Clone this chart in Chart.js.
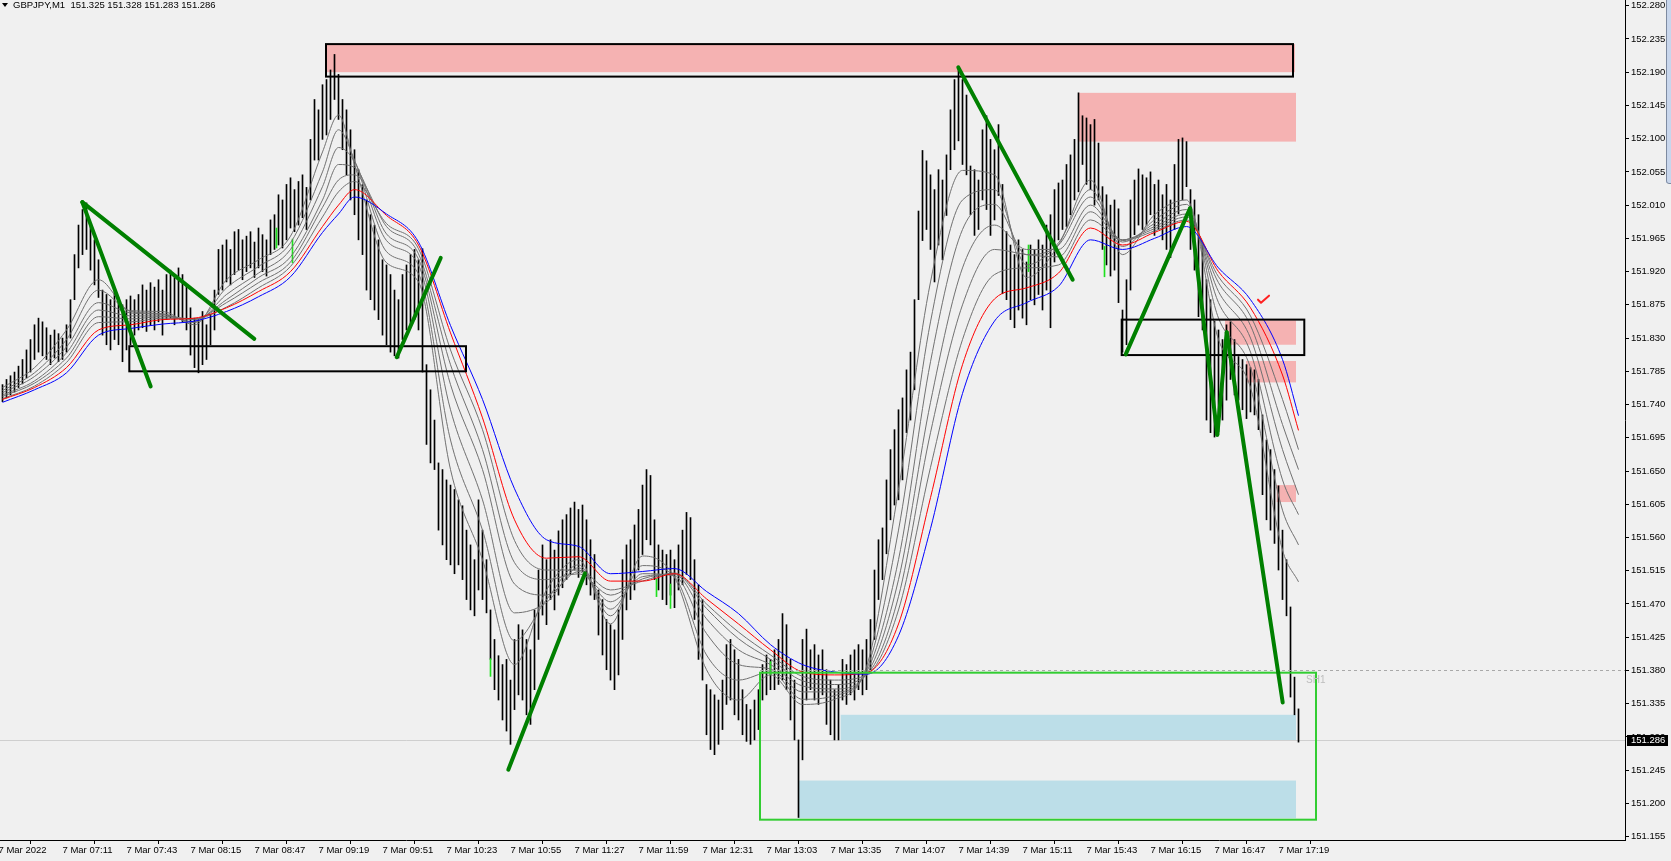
<!DOCTYPE html>
<html><head><meta charset="utf-8">
<script src="https://cdn.jsdelivr.net/npm/chart.js@4.4.1/dist/chart.umd.min.js"></script>
<style>html,body{margin:0;padding:0;background:#f0f0f0;overflow:hidden}canvas{display:block}</style>
</head><body>
<canvas id="c" width="1671" height="861"></canvas>
<script>
// ---------- data ----------
const symbol = "GBPJPY,M1";
const lastOHLC = [151.325, 151.328, 151.283, 151.286];
const barStartMinute = 400;   // 06:40, minutes since midnight
const barStepMinutes = 2;     // one bar per 2 minutes

const barHigh = [
151.767,151.774,151.779,151.784,151.792,151.801,151.814,151.828,151.848,151.857,
151.852,151.844,151.834,151.841,151.836,151.830,151.848,151.882,151.943,151.983,
152.004,152.013,151.983,151.963,151.936,151.895,151.889,151.882,151.893,151.885,
151.875,151.882,151.887,151.882,151.889,151.902,151.895,151.905,151.899,151.909,
151.895,151.916,151.922,151.912,151.925,151.916,151.902,151.871,151.857,151.855,
151.866,151.848,151.862,151.895,151.950,151.956,151.963,151.950,151.974,151.977,
151.963,151.968,151.974,151.960,151.979,151.970,151.963,151.990,151.997,152.024,
152.017,152.038,152.047,152.031,152.042,152.051,152.034,152.099,152.153,152.139,
152.173,152.180,152.193,152.214,152.187,152.153,152.139,152.112,152.085,152.058,
152.038,152.017,151.997,151.983,151.963,151.936,151.929,151.916,151.895,151.882,
151.916,151.929,151.943,151.950,151.936,151.951,151.794,151.760,151.719,151.661,
151.652,151.638,151.631,151.625,151.611,151.603,151.570,151.550,151.530,151.611,
151.570,151.530,151.462,151.422,151.400,151.388,151.395,151.367,151.422,151.442,
151.435,151.422,151.408,151.462,151.516,151.550,151.530,151.557,151.543,151.569,
151.584,151.591,151.600,151.608,151.598,151.604,151.584,151.557,151.537,151.489,
151.476,151.449,151.442,151.435,151.462,151.530,151.550,151.557,151.577,151.598,
151.631,151.652,151.644,151.584,151.550,151.543,151.537,151.543,151.530,151.550,
151.570,151.594,151.587,151.530,151.496,151.476,151.361,151.354,151.347,151.340,
151.367,151.415,151.422,151.408,151.395,151.354,151.334,151.327,151.340,151.354,
151.388,151.401,151.395,151.408,151.422,151.457,151.442,151.395,151.367,151.286,
151.422,151.436,151.408,151.415,151.401,151.408,151.381,151.367,151.354,151.361,
151.395,151.388,151.401,151.408,151.415,151.408,151.422,151.449,151.516,151.557,
151.573,151.638,151.679,151.706,151.733,151.749,151.787,151.811,151.882,152.002,
152.084,152.070,152.051,152.031,152.058,152.044,152.078,152.139,152.180,152.196,
152.180,152.159,152.063,152.058,152.044,152.112,152.131,152.099,152.085,152.119,
152.038,151.974,151.956,151.943,151.963,151.950,151.933,151.956,151.950,151.963,
151.956,151.983,151.997,152.031,152.040,152.044,152.065,152.078,152.099,152.162,
152.131,152.128,152.119,152.126,152.094,152.035,152.024,152.010,152.017,152.005,
151.868,151.909,152.017,152.044,152.059,152.051,152.047,152.055,152.038,152.044,
152.024,152.038,152.017,152.065,152.099,152.101,152.096,152.031,152.017,151.997,
151.956,151.909,151.882,151.853,151.841,151.828,151.848,151.852,151.828,151.805,
151.801,151.794,151.790,151.787,151.774,151.726,151.692,151.679,151.652,151.630,
151.570,151.530,151.466,151.371,151.328
];
const barLow = [
151.744,151.749,151.753,151.757,151.763,151.768,151.776,151.784,151.801,151.811,
151.806,151.801,151.794,151.803,151.798,151.801,151.811,151.830,151.882,151.925,
151.943,151.950,151.922,151.902,151.885,151.834,151.821,151.814,151.828,151.821,
151.798,151.814,151.821,151.834,151.841,151.844,151.839,151.847,151.841,151.852,
151.834,151.855,151.857,151.848,151.859,151.852,151.841,151.807,151.790,151.783,
151.794,151.801,151.821,151.841,151.889,151.895,151.906,151.902,151.916,151.922,
151.909,151.920,151.925,151.912,151.925,151.920,151.914,151.943,151.950,151.956,
151.952,151.963,151.979,151.974,151.983,151.993,151.977,152.017,152.071,152.071,
152.099,152.105,152.126,152.153,152.126,152.085,152.051,152.017,151.997,151.963,
151.943,151.895,151.882,151.868,151.855,151.834,151.821,151.811,151.806,151.803,
151.828,151.841,151.844,151.855,151.841,151.784,151.686,151.661,151.652,151.570,
151.550,151.530,151.523,151.511,151.523,151.503,151.476,151.462,151.454,151.489,
151.476,151.458,151.395,151.354,151.340,151.313,151.298,151.280,151.327,151.347,
151.340,151.320,151.307,151.354,151.422,151.455,151.442,151.476,151.462,151.482,
151.492,151.503,151.510,151.516,151.506,151.514,151.496,151.482,151.476,151.428,
151.401,151.381,151.367,151.354,151.374,151.422,151.462,151.476,151.489,151.516,
151.537,151.557,151.550,151.503,151.489,151.476,151.469,151.482,151.465,151.489,
151.496,151.510,151.503,151.449,151.395,151.367,151.293,151.273,151.266,151.280,
151.300,151.334,151.340,151.320,151.313,151.293,151.284,151.280,151.286,151.300,
151.340,151.347,151.354,151.354,151.361,151.367,151.354,151.313,151.286,151.181,
151.259,151.340,151.354,151.340,151.334,151.347,151.307,151.293,151.286,151.286,
151.340,151.334,151.347,151.340,151.354,151.347,151.354,151.381,151.422,151.476,
151.503,151.538,151.584,151.604,151.611,151.638,151.702,151.719,151.760,151.882,
151.962,151.977,151.950,151.906,151.956,151.936,151.996,152.058,152.085,152.097,
152.065,152.051,151.997,151.969,151.977,152.017,152.004,151.969,151.990,152.023,
151.890,151.882,151.855,151.844,151.868,151.857,151.848,151.882,151.875,151.889,
151.868,151.895,151.844,151.933,151.963,151.977,151.981,151.997,152.017,152.028,
152.065,152.038,152.031,152.010,152.017,151.950,151.929,151.914,151.922,151.878,
151.811,151.821,151.895,151.970,151.983,151.977,151.983,151.997,151.969,151.977,
151.963,151.950,151.939,151.977,151.998,152.017,152.035,151.950,151.922,151.859,
151.841,151.719,151.702,151.696,151.703,151.719,151.746,151.774,151.753,151.746,
151.733,151.721,151.730,151.726,151.706,151.618,151.584,151.570,151.552,151.516,
151.476,151.454,151.344,151.320,151.283
];

// moving-average readings (minutes since midnight)
const maTimes = [401,417,433,449,465,481,497,513,529,545,561,569,577,593,609,625,641,657,673,689,705,721,737,753,769,785,801,817,833,849,865,881,897,913,929,945,961,977,993,1009,1025,1041,1049];
const maGrey1 = [151.763,151.790,151.841,151.909,151.867,151.866,151.848,151.909,151.936,151.968,152.082,152.132,152.065,151.932,151.906,151.652,151.530,151.388,151.489,151.530,151.443,151.535,151.506,151.381,151.340,151.374,151.334,151.341,151.385,151.625,151.906,152.057,152.051,151.912,151.956,152.044,151.943,151.997,152.017,151.828,151.763,151.543,151.500];
const maGrey2 = [151.759,151.783,151.828,151.895,151.866,151.863,151.851,151.898,151.927,151.959,152.055,152.112,152.071,151.947,151.917,151.692,151.570,151.420,151.476,151.523,151.454,151.522,151.507,151.401,151.367,151.378,151.341,151.346,151.381,151.570,151.852,152.017,152.031,151.929,151.959,152.031,151.954,151.990,152.011,151.857,151.790,151.597,151.550];
const maGrey3 = [151.756,151.778,151.818,151.878,151.864,151.862,151.852,151.889,151.918,151.950,152.035,152.088,152.069,151.962,151.929,151.733,151.611,151.458,151.472,151.519,151.463,151.511,151.508,151.430,151.388,151.382,151.351,151.351,151.378,151.530,151.798,151.977,152.011,151.943,151.956,152.021,151.960,151.985,152.004,151.878,151.811,151.638,151.591];
const maGrey4 = [151.753,151.772,151.810,151.868,151.860,151.860,151.855,151.882,151.912,151.940,152.017,152.065,152.061,151.971,151.937,151.767,151.652,151.497,151.482,151.514,151.473,151.507,151.510,151.450,151.408,151.388,151.359,151.355,151.375,151.503,151.743,151.925,151.983,151.950,151.950,152.010,151.963,151.981,151.998,151.893,151.830,151.679,151.618];
const maGrey5 = [151.751,151.769,151.803,151.859,151.856,151.859,151.856,151.878,151.905,151.933,152.007,152.044,152.051,151.981,151.944,151.794,151.679,151.526,151.503,151.511,151.482,151.504,151.511,151.464,151.423,151.395,151.366,151.361,151.374,151.480,151.702,151.875,151.950,151.943,151.940,152.001,151.963,151.978,151.994,151.905,151.847,151.713,151.652];
const maGrey6 = [151.748,151.765,151.797,151.851,151.852,151.857,151.856,151.872,151.898,151.927,151.994,152.028,152.042,151.985,151.951,151.814,151.706,151.556,151.516,151.516,151.489,151.501,151.512,151.470,151.432,151.401,151.372,151.367,151.374,151.462,151.655,151.828,151.916,151.925,151.929,151.990,151.962,151.975,151.990,151.913,151.860,151.747,151.679];
const maRed   = [151.747,151.763,151.790,151.841,151.848,151.855,151.857,151.871,151.893,151.920,151.981,152.010,152.031,151.996,151.956,151.837,151.722,151.584,151.532,151.534,151.501,151.501,151.511,151.477,151.443,151.408,151.378,151.374,151.377,151.443,151.614,151.794,151.883,151.898,151.918,151.979,151.956,151.973,151.988,151.920,151.871,151.780,151.705];
const maBlue  = [151.743,151.760,151.783,151.834,151.843,151.849,151.853,151.866,151.886,151.913,151.973,151.998,152.021,151.998,151.960,151.847,151.747,151.626,151.557,151.548,151.511,151.514,151.518,151.487,151.457,151.415,151.388,151.378,151.375,151.427,151.572,151.755,151.853,151.878,151.900,151.963,151.950,151.965,151.981,151.925,151.882,151.801,151.725];

// highlighted (lime) bars
const signalTimes = [538, 546, 645, 728, 735, 785, 914, 952];
const signalLow   = [151.952, 151.932, 151.372, 151.480, 151.464, 151.374, 151.920, 151.913];
const signalHigh  = [151.979, 151.964, 151.396, 151.504, 151.497, 151.392, 151.956, 151.954];

// axis ticks
const xTickMinutes = [399,431,463,495,527,559,591,623,655,687,719,751,783,815,847,879,911,943,975,1007,1039];
const xTickLabels = ["7 Mar 2022","7 Mar 07:11","7 Mar 07:43","7 Mar 08:15","7 Mar 08:47","7 Mar 09:19","7 Mar 09:51","7 Mar 10:23","7 Mar 10:55","7 Mar 11:27","7 Mar 11:59","7 Mar 12:31","7 Mar 13:03","7 Mar 13:35","7 Mar 14:07","7 Mar 14:39","7 Mar 15:11","7 Mar 15:43","7 Mar 16:15","7 Mar 16:47","7 Mar 17:19"];
const yTickLabels = ["151.155","151.200","151.245","151.290","151.335","151.380","151.425","151.470","151.515","151.560","151.605","151.650","151.695","151.740","151.785","151.830","151.875","151.920","151.965","152.010","152.055","152.100","152.145","152.190","152.235","152.280"];
const xRange = [399.75, 1212.25];
const yRange = [151.1505, 152.2877];

// drawn objects: [startMinute, endMinute, topPrice, bottomPrice]
const supplyZones = [
  [562.75, 1047.25, 152.228, 152.190],
  [938.75, 1047.75, 152.162, 152.096],
  [1012.25, 1047.75, 151.854, 151.821],
  [1022.75, 1047.75, 151.799, 151.770],
  [1038.1, 1047.75, 151.631, 151.608]
];
const demandZones = [
  [820.1, 1047.75, 151.320, 151.285],
  [798.9, 1047.75, 151.231, 151.180]
];
const outlineBoxes = [
  [562.75, 1046.25, 152.228, 152.184],
  [464.4, 632.75, 151.819, 151.785],
  [960.6, 1051.9, 151.855, 151.807]
];
const rangeBox = [779.75, 1057.75, 151.377, 151.178];
// trend lines: [t1, p1, t2, p2]
const trendLines = [
  [440.9, 152.014, 475.1, 151.7645],
  [440.9, 152.014, 526.9, 151.829],
  [598.1, 151.804, 620.1, 151.9385],
  [653.9, 151.2456, 692.25, 151.5115],
  [878.9, 152.1965, 936.1, 151.909],
  [962.6, 151.808, 994.75, 152.0056],
  [994.75, 152.0056, 1008.4, 151.699],
  [1008.4, 151.699, 1013.1, 151.838],
  [1013.1, 151.838, 1041.1, 151.3366]
];
const sh1Level = 151.380;
const sh1Label = "SH1";
const sh1LabelAt = [1052.75, 151.367];
const checkMarkAt = [1031.25, 151.882];

// ---------- chart ----------
const FONT = "'Liberation Sans', Arial, sans-serif";
const bars = barHigh.map((h, i) => ({x: barStartMinute + barStepMinutes * i + 1, y: [barLow[i], h]}));
const sigBars = signalTimes.map((t, i) => ({x: t, y: [signalLow[i], signalHigh[i]]}));
const ma = arr => maTimes.map((t, i) => ({x: t, y: arr[i]}));
const greyLine = arr => ({type: 'line', data: ma(arr), borderColor: '#707070', borderWidth: 1, pointRadius: 0, cubicInterpolationMode: 'monotone', order: 5});

const overlay = {
  id: 'overlay',
  beforeDatasetsDraw(chart) {
    const {ctx, chartArea: a, scales: {x, y}} = chart;
    ctx.save();
    ctx.beginPath(); ctx.rect(a.left, a.top, a.right - a.left, a.bottom - a.top); ctx.clip();
    const fillZone = (z, col) => {
      const x0 = x.getPixelForValue(z[0]), x1 = x.getPixelForValue(z[1]);
      const y0 = y.getPixelForValue(z[2]), y1 = y.getPixelForValue(z[3]);
      ctx.fillStyle = col; ctx.fillRect(x0, y0, x1 - x0, y1 - y0);
    };
    supplyZones.forEach(z => fillZone(z, '#f5b2b2'));
    demandZones.forEach(z => fillZone(z, '#bcdee8'));
    const by = Math.round(y.getPixelForValue(lastOHLC[3])) + 0.5;
    ctx.strokeStyle = '#cfcfcf'; ctx.lineWidth = 1;
    ctx.beginPath(); ctx.moveTo(a.left, by); ctx.lineTo(a.right, by); ctx.stroke();
    ctx.restore();
  },
  afterDatasetsDraw(chart) {
    const {ctx, chartArea: a, scales: {x, y}} = chart;
    ctx.save();
    ctx.beginPath(); ctx.rect(a.left, a.top, a.right - a.left, a.bottom - a.top); ctx.clip();
    ctx.strokeStyle = '#000'; ctx.lineWidth = 2;
    outlineBoxes.forEach(z => {
      const x0 = x.getPixelForValue(z[0]), x1 = x.getPixelForValue(z[1]);
      const y0 = y.getPixelForValue(z[2]), y1 = y.getPixelForValue(z[3]);
      ctx.strokeRect(x0, y0, x1 - x0, y1 - y0);
    });
    {
      const z = rangeBox;
      const x0 = x.getPixelForValue(z[0]), x1 = x.getPixelForValue(z[1]);
      const y0 = y.getPixelForValue(z[2]), y1 = y.getPixelForValue(z[3]);
      ctx.strokeStyle = '#32cd32'; ctx.lineWidth = 2;
      ctx.strokeRect(x0, y0, x1 - x0, y1 - y0);
    }
    const sy = Math.round(y.getPixelForValue(sh1Level)) + 0.5;
    ctx.strokeStyle = '#a9a9a9'; ctx.lineWidth = 1; ctx.setLineDash([3, 3]);
    ctx.beginPath(); ctx.moveTo(x.getPixelForValue(rangeBox[0]), sy); ctx.lineTo(a.right, sy); ctx.stroke();
    ctx.setLineDash([]);
    ctx.fillStyle = '#bdbdbd'; ctx.font = '10px ' + FONT; ctx.textBaseline = 'middle'; ctx.textAlign = 'left';
    ctx.fillText(sh1Label, x.getPixelForValue(sh1LabelAt[0]), y.getPixelForValue(sh1LabelAt[1]));
    ctx.strokeStyle = '#008000'; ctx.lineWidth = 4; ctx.lineCap = 'round'; ctx.lineJoin = 'round';
    trendLines.forEach(l => {
      ctx.beginPath();
      ctx.moveTo(x.getPixelForValue(l[0]), y.getPixelForValue(l[1]));
      ctx.lineTo(x.getPixelForValue(l[2]), y.getPixelForValue(l[3]));
      ctx.stroke();
    });
    const cx = x.getPixelForValue(checkMarkAt[0]), cy = y.getPixelForValue(checkMarkAt[1]);
    ctx.strokeStyle = '#ff2020'; ctx.lineWidth = 2; ctx.lineCap = 'round';
    ctx.beginPath(); ctx.moveTo(cx - 5, cy); ctx.lineTo(cx - 2, cy + 3); ctx.lineTo(cx + 6, cy - 4); ctx.stroke();
    ctx.restore();
  },
  afterDraw(chart) {
    const {ctx, chartArea: a, scales: {y}} = chart;
    ctx.save();
    ctx.fillStyle = '#000';
    ctx.beginPath(); ctx.moveTo(2, 3); ctx.lineTo(8, 3); ctx.lineTo(5, 7); ctx.closePath(); ctx.fill();
    ctx.font = '9.5px ' + FONT; ctx.textBaseline = 'middle'; ctx.textAlign = 'left';
    ctx.fillText(symbol + '  ' + lastOHLC.map(v => v.toFixed(3)).join(' '), 13, 5.5);
    const py = y.getPixelForValue(lastOHLC[3]);
    ctx.fillStyle = '#000'; ctx.fillRect(a.right + 2, Math.round(py) - 5, 41, 11);
    ctx.fillStyle = '#fff'; ctx.font = '9.5px ' + FONT;
    ctx.fillText(lastOHLC[3].toFixed(3), a.right + 6, Math.round(py) + 0.5);
    ctx.fillStyle = '#c8d6ec'; ctx.fillRect(chart.width - 5, 0, 5, 183);
    ctx.strokeStyle = '#7d8aa0'; ctx.lineWidth = 1;
    ctx.beginPath(); ctx.moveTo(chart.width - 4.5, 0); ctx.lineTo(chart.width - 4.5, 181); ctx.quadraticCurveTo(chart.width - 4.5, 183.5, chart.width - 2, 183.5); ctx.lineTo(chart.width, 183.5); ctx.stroke();
    ctx.restore();
  }
};

new Chart(document.getElementById('c'), {
  type: 'bar',
  data: {
    datasets: [
      {type: 'bar', label: 'GBPJPY M1', data: bars, backgroundColor: '#000', borderWidth: 0, barThickness: 1, grouped: false, order: 10},
      {type: 'bar', label: 'signal', data: sigBars, backgroundColor: '#1fe01f', borderWidth: 0, barThickness: 1, grouped: false, order: 9},
      greyLine(maGrey1), greyLine(maGrey2), greyLine(maGrey3), greyLine(maGrey4), greyLine(maGrey5), greyLine(maGrey6),
      {type: 'line', label: 'MA red', data: ma(maRed), borderColor: '#ff0000', borderWidth: 1, pointRadius: 0, cubicInterpolationMode: 'monotone', order: 2},
      {type: 'line', label: 'MA blue', data: ma(maBlue), borderColor: '#0000ff', borderWidth: 1, pointRadius: 0, cubicInterpolationMode: 'monotone', order: 1}
    ]
  },
  options: {
    responsive: false, animation: false, devicePixelRatio: 1,
    layout: {padding: 0},
    plugins: {legend: {display: false}, tooltip: {enabled: false}},
    scales: {
      x: {
        type: 'linear', min: xRange[0], max: xRange[1], offset: false,
        grid: {drawOnChartArea: false, drawTicks: true, tickLength: 4, color: '#000'},
        border: {display: true, color: '#000', width: 1},
        ticks: {autoSkip: false, maxRotation: 0, minRotation: 0, align: 'start', padding: 1, color: '#000', font: {family: FONT, size: 9.5},
          callback: v => { const k = xTickMinutes.indexOf(v); return k >= 0 ? xTickLabels[k] : ''; }},
        afterBuildTicks: s => { s.ticks = xTickMinutes.map(v => ({value: v})); },
        afterFit: s => { s.height = 21; s.paddingLeft = 0; s.paddingRight = 0; }
      },
      y: {
        type: 'linear', position: 'right', min: yRange[0], max: yRange[1],
        grid: {drawOnChartArea: false, drawTicks: true, tickLength: 4, color: '#000'},
        border: {display: true, color: '#000', width: 1},
        ticks: {padding: 2, color: '#000', font: {family: FONT, size: 9.5}, callback: v => Number(v).toFixed(3)},
        afterBuildTicks: s => { s.ticks = yTickLabels.map(t => ({value: parseFloat(t)})); },
        afterFit: s => { s.width = 46; s.paddingTop = 0; s.paddingBottom = 0; }
      }
    }
  },
  plugins: [overlay]
});
</script>
</body></html>
